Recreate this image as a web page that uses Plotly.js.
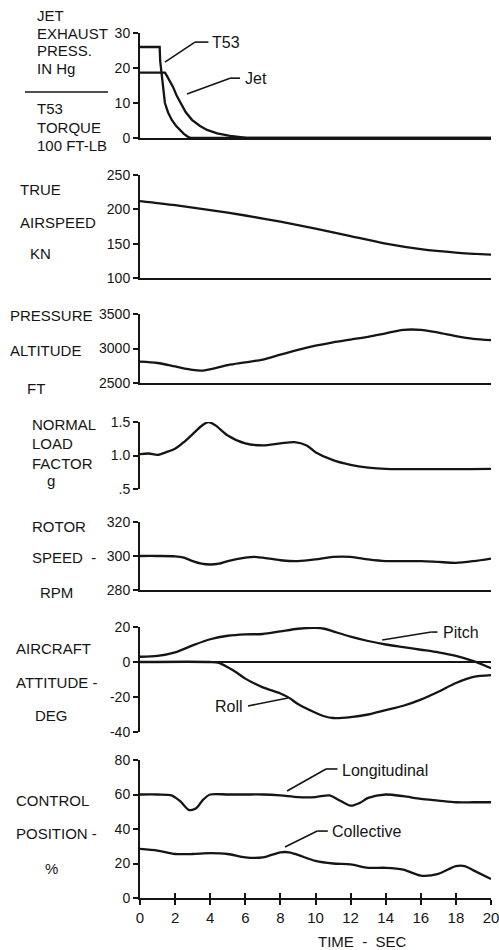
<!DOCTYPE html>
<html>
<head>
<meta charset="utf-8">
<script src="https://cdn.plot.ly/plotly-3.0.1.min.js"></script>
<style>
html,body{margin:0;padding:0;background:#fff;}
#chart{width:499px;height:950px;}
</style>
</head>
<body>
<div id="chart"></div>
<script>
// ---- data (time in seconds) ----
const t53X = [0, 1.12, 1.15, 1.22, 1.31, 1.42, 1.6, 1.82, 2.05, 2.28, 2.5, 2.74, 2.9, 20];
const t53Y = [26, 26, 22, 18.7, 14.6, 10, 7.3, 5.1, 3.5, 2.3, 1.2, 0.3, 0, 0];
const jetX = [0, 1.42, 1.55, 1.7, 1.88, 2.08, 2.28, 2.6, 2.96, 3.4, 3.82, 4.4, 5.13, 6.1, 20];
const jetY = [18.7, 18.7, 17.6, 16.2, 14.6, 12.2, 10.2, 7.4, 5.2, 3.5, 2.3, 1.3, 0.6, 0, 0];

const tasX = [0, 2, 4, 6, 8, 10, 12, 14, 16, 18, 20];
const tasY = [212, 206, 199, 191, 182, 172, 161, 150, 142, 137, 134];

const altX = [0, 1, 2, 3, 3.5, 4, 5, 6, 7, 8, 9, 10, 11, 12, 13, 14, 15, 16, 17, 18, 19, 20];
const altY = [2810, 2790, 2740, 2690, 2680, 2700, 2760, 2800, 2840, 2910, 2980, 3040, 3090, 3130, 3170, 3220, 3270, 3270, 3230, 3180, 3140, 3120];

const nzX = [0, 0.5, 1, 1.5, 2, 2.5, 3, 3.5, 3.9, 4.3, 5, 6, 7, 8, 8.8, 9.5, 10, 11, 12, 13, 14, 20];
const nzY = [1.02, 1.03, 1.01, 1.05, 1.1, 1.2, 1.32, 1.44, 1.5, 1.45, 1.3, 1.18, 1.15, 1.18, 1.2, 1.15, 1.05, 0.93, 0.86, 0.82, 0.8, 0.8];

const rpmX = [0, 1, 2, 2.5, 3, 3.5, 4, 4.5, 5, 6, 6.5, 7, 8, 9, 10, 11, 12, 13, 14, 16, 17, 18, 19, 20];
const rpmY = [300, 300, 299.8, 299, 297, 295.5, 295, 295.5, 297, 299, 299.5, 299, 297.5, 297, 298, 299.5, 299.5, 298, 297, 297, 296.5, 296, 297, 298.5];

const pitchX = [0, 1, 2, 3, 4, 5, 6, 7, 8, 9, 10, 10.5, 11, 12, 13, 14, 15, 16, 17, 18, 19, 20];
const pitchY = [3, 3.5, 5.5, 9.5, 13, 15, 15.8, 16, 17.5, 19, 19.5, 19, 17.5, 14.5, 12, 10, 8.5, 7, 5.5, 3.5, 0.5, -3.5];

const rollX = [0, 4, 4.5, 5, 5.5, 6, 7, 8, 8.5, 9, 10, 10.5, 11, 12, 13, 14, 15, 16, 17, 18, 19, 20];
const rollY = [0, 0, -0.5, -3, -6, -9.5, -14.5, -18, -20.5, -24, -29, -31, -32, -31.5, -30, -27.5, -25, -21.5, -17, -12, -8.5, -7.5];

const longX = [0, 1, 1.8, 2.3, 2.8, 3.2, 3.6, 4, 5, 6, 7, 8, 9, 10, 10.8, 11.3, 12, 12.5, 13, 14, 15, 16, 17, 18, 19, 20];
const longY = [60, 60, 59.5, 56, 51, 52, 57, 60, 60, 60, 60, 59.5, 58.5, 58.5, 59.5, 57, 53.5, 55, 58, 60, 59, 57.5, 56.5, 55.5, 55.5, 55.5];

const collX = [0, 1, 2, 3, 4, 5, 6, 7, 8, 8.5, 9, 10, 11, 12, 13, 14, 15, 16, 17, 18, 18.5, 19, 20];
const collY = [28.5, 27.5, 25.5, 25.5, 26, 25.5, 23.5, 23.5, 26.5, 26.5, 25, 21.5, 20, 19.5, 17.5, 17.5, 16.5, 13, 14, 18.5, 18.5, 16, 11];

const timeTicks = [0, 2, 4, 6, 8, 10, 12, 14, 16, 18, 20];

// ---- layout helpers ----
const W = 499, H = 950, L = 140, R = 8;
const PW = W - L - R;
const px = x => (x - L) / PW;
const py = y => 1 - y / H;
const INK = '#151515';
const FONT = 'Liberation Sans, Arial, sans-serif';

// panel vertical extents in pixels [top, bottom]
const panels = [[33, 138], [175, 278], [314, 383], [422, 489], [522, 590], [627, 732], [760, 898]];
const ranges = [[0, 30], [100, 250], [2500, 3500], [0.5, 1.5], [280, 320], [-40, 20], [0, 80]];
const yTicks = [
  {v: [0, 10, 20, 30], t: ['0', '10', '20', '30']},
  {v: [100, 150, 200, 250], t: ['100', '150', '200', '250']},
  {v: [2500, 3000, 3500], t: ['2500', '3000', '3500']},
  {v: [0.5, 1.0, 1.5], t: ['.5', '1.0', '1.5']},
  {v: [280, 300, 320], t: ['280', '300', '320']},
  {v: [-40, -20, 0, 20], t: ['-40', '-20', '0', '20']},
  {v: [0, 20, 40, 60, 80], t: ['0', '20', '40', '60', '80']}
];
const baseline = [true, true, true, false, true, false, true];

const layout = {
  width: W, height: H,
  margin: {l: L, r: R, t: 0, b: 0},
  paper_bgcolor: '#fff', plot_bgcolor: 'rgba(0,0,0,0)',
  showlegend: false,
  font: {family: FONT, size: 15, color: INK},
  annotations: [], shapes: []
};

for (let i = 0; i < 7; i++) {
  const n = i === 0 ? '' : String(i + 1);
  const [top, bot] = panels[i];
  layout['yaxis' + n] = {
    domain: [py(bot), py(top)], range: ranges[i], anchor: 'x' + n,
    showline: true, linecolor: INK, linewidth: 2,
    ticks: 'outside', ticklen: 5, tickwidth: 2, tickcolor: INK,
    tickvals: yTicks[i].v, ticktext: yTicks[i].t,
    showgrid: false, zeroline: i === 5, zerolinecolor: INK, zerolinewidth: 2,
    tickfont: {family: FONT, size: 14, color: INK}, fixedrange: true
  };
  layout['xaxis' + n] = {
    domain: [0, 1], range: [0, 20], anchor: 'y' + n,
    showline: baseline[i], linecolor: INK, linewidth: 2,
    showgrid: false, zeroline: false,
    showticklabels: i === 6, ticks: i === 6 ? 'outside' : '',
    ticklen: 5, tickwidth: 2, tickcolor: INK, ticklabeloverflow: 'allow',
    tickvals: timeTicks, ticktext: timeTicks.map(String),
    tickfont: {family: FONT, size: 15, color: INK}, fixedrange: true
  };
}
// inward half of crossing ticks on the time axis
layout.xaxis8 = {
  domain: [0, 1], range: [0, 20], anchor: 'y7', overlaying: 'x7',
  showline: false, showgrid: false, zeroline: false, showticklabels: false,
  ticks: 'inside', ticklen: 5, tickwidth: 2, tickcolor: INK, tickvals: timeTicks, fixedrange: true
};

const lineStyle = {color: INK, width: 2.3};
const tr = (x, y, n, shape) => ({
  x, y, xaxis: 'x' + n, yaxis: 'y' + n, type: 'scatter', mode: 'lines',
  line: Object.assign({shape: shape || 'spline', smoothing: 0.8}, lineStyle),
  hoverinfo: 'skip', cliponaxis: false
});
const data = [
  tr(t53X, t53Y, '', 'linear'),
  tr(jetX, jetY, '', 'linear'),
  tr(tasX, tasY, '2'),
  tr(altX, altY, '3'),
  tr(nzX, nzY, '4'),
  tr(rpmX, rpmY, '5'),
  tr(pitchX, pitchY, '6'),
  tr(rollX, rollY, '6'),
  tr(longX, longY, '7'),
  tr(collX, collY, '7'),
  {x: [0, 20], y: [0, 0], xaxis: 'x8', yaxis: 'y7', type: 'scatter', mode: 'lines',
   line: {color: 'rgba(0,0,0,0)', width: 0}, hoverinfo: 'skip'}
];

// ---- left-side labels (pixel positions) ----
const leftLabels = [
  ['JET', 35, 16], ['EXHAUST', 35, 33.5], ['PRESS.', 35, 51], ['IN Hg', 35, 68.5],
  ['T53', 35, 108], ['TORQUE', 35, 127], ['100 FT-LB', 35, 146],
  ['TRUE', 18, 190], ['AIRSPEED', 18, 222], ['KN', 28, 253],
  ['PRESSURE', 8, 316], ['ALTITUDE', 8, 350], ['FT', 25, 388],
  ['NORMAL', 30, 424], ['LOAD', 30, 443], ['FACTOR', 30, 463], ['g', 45, 481],
  ['ROTOR', 30, 526], ['SPEED  -', 30, 557], ['RPM', 38, 592],
  ['AIRCRAFT', 14, 648], ['ATTITUDE -', 14, 682], ['DEG', 33, 715],
  ['CONTROL', 14, 800], ['POSITION -', 14, 833], ['%', 43, 868]
];
leftLabels.forEach(([txt, x, y]) => layout.annotations.push({
  text: txt, xref: 'paper', yref: 'paper', x: px(x), y: py(y),
  xanchor: 'left', yanchor: 'middle', showarrow: false,
  font: {family: FONT, size: 15, color: INK}
}));
layout.shapes.push({type: 'line', xref: 'paper', yref: 'paper',
  x0: px(25), x1: px(108), y0: py(92), y1: py(92), line: {color: INK, width: 1.5}});

// time axis title
layout.annotations.push({text: 'TIME  -  SEC', xref: 'paper', yref: 'paper',
  x: px(362), y: py(941), xanchor: 'center', yanchor: 'middle', showarrow: false,
  font: {family: FONT, size: 15, color: INK}});

// ---- curve labels with leader lines (data coordinates) ----
const curveLabels = [
  {n: '', text: 'T53', lx: 3.99, ly: 27.4, pts: [[1.42, 21.7], [3.13, 27.4], [3.9, 27.4]]},
  {n: '', text: 'Jet', lx: 5.87, ly: 17.1, pts: [[2.68, 12.6], [5.13, 17.1], [5.7, 17.1]]},
  {n: '6', text: 'Pitch', lx: 17.15, ly: 16.6, pts: [[13.8, 12.6], [16.6, 17.1], [16.95, 17.1]]},
  {n: '6', text: 'Roll', lx: 4.16, ly: -25.7, pts: [[8.43, -20.6], [6.15, -25.1]]},
  {n: '7', text: 'Longitudinal', lx: 11.4, ly: 74.2, pts: [[8.38, 62], [10.6, 74.8], [11.25, 74.8]]},
  {n: '7', text: 'Collective', lx: 10.83, ly: 38.3, pts: [[8.26, 29.6], [10.1, 38.8], [10.7, 38.8]]}
];
curveLabels.forEach(c => {
  layout.annotations.push({text: c.text, xref: 'x' + c.n, yref: 'y' + c.n, x: c.lx, y: c.ly,
    xanchor: 'left', yanchor: 'middle', showarrow: false,
    font: {family: FONT, size: 16, color: INK}});
  for (let k = 0; k < c.pts.length - 1; k++) {
    layout.shapes.push({type: 'line', xref: 'x' + c.n, yref: 'y' + c.n,
      x0: c.pts[k][0], y0: c.pts[k][1], x1: c.pts[k + 1][0], y1: c.pts[k + 1][1],
      line: {color: INK, width: 1.6}});
  }
});

Plotly.newPlot('chart', data, layout, {staticPlot: true, displayModeBar: false});
</script>
</body>
</html>
